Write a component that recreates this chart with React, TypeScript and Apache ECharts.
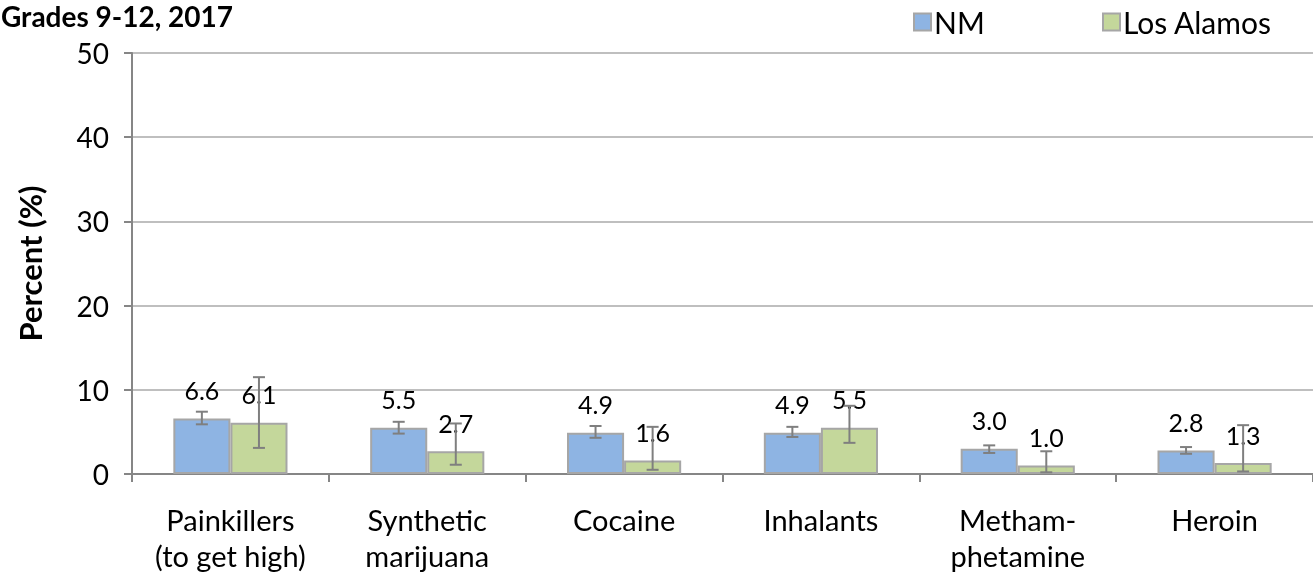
import React, { useEffect, useRef } from "react";
import * as echarts from "echarts";

const categories = [
  "Painkillers\n(to get high)",
  "Synthetic\nmarijuana",
  "Cocaine",
  "Inhalants",
  "Metham-\nphetamine",
  "Heroin",
];
const nmValues = [6.6, 5.5, 4.9, 4.9, 3.0, 2.8];
const laValues = [6.1, 2.7, 1.6, 5.5, 1.0, 1.3];
const nmLow = [5.9, 4.8, 4.3, 4.4, 2.5, 2.4];
const nmHigh = [7.4, 6.2, 5.7, 5.6, 3.4, 3.2];
const laLow = [3.1, 1.1, 0.5, 3.7, 0.2, 0.3];
const laHigh = [11.5, 6.0, 5.6, 8.1, 2.7, 5.8];
const yTicks = [0, 10, 20, 30, 40, 50];

const FONT = "Lato";
const NM_COLOR = "#8EB4E3";
const LA_COLOR = "#C4D79B";
const BORDER = "#A6A6A6";
const ERR = "#7F7F7F";
const CATEGORY_GAP = 0.42;

function errorSeries(name: string, lows: number[], highs: number[], side: number) {
  return {
    type: "custom",
    name: name + " error",
    z: 5,
    silent: true,
    data: lows.map((lo, i) => [i, lo, highs[i]]),
    encode: { x: 0, y: [1, 2] },
    renderItem: (params: any, api: any) => {
      const idx = api.value(0);
      const catW = api.size([1, 0])[0];
      const barW = (catW * (1 - CATEGORY_GAP)) / 2;
      const lowP = api.coord([idx, api.value(1)]);
      const highP = api.coord([idx, api.value(2)]);
      const x = lowP[0] + (side * barW) / 2;
      const cap = 6;
      const style = { stroke: ERR, lineWidth: 2 };
      return {
        type: "group",
        children: [
          { type: "line", shape: { x1: x, y1: lowP[1], x2: x, y2: highP[1] }, style },
          { type: "line", shape: { x1: x - cap, y1: lowP[1], x2: x + cap, y2: lowP[1] }, style },
          { type: "line", shape: { x1: x - cap, y1: highP[1], x2: x + cap, y2: highP[1] }, style },
        ],
      };
    },
  };
}

export default function App() {
  const ref = useRef<HTMLDivElement>(null);
  useEffect(() => {
    if (!ref.current) return;
    const chart = echarts.init(ref.current, undefined, { renderer: "svg" });
    chart.setOption({
      animation: false,
      textStyle: { fontFamily: FONT },
      graphic: [
        {
          type: "text",
          left: 1,
          top: 2,
          style: {
            text: "Grades 9-12, 2017",
            fontFamily: FONT,
            fontWeight: "bold",
            fontSize: 28,
            fill: "#000",
          },
        },
      ],
      legend: [
        {
          data: [{ name: "NM", itemStyle: { color: NM_COLOR, borderColor: BORDER, borderWidth: 2 } }],
          left: 908,
          top: 2,
          itemWidth: 17,
          itemHeight: 17,
          itemGap: 10,
          icon: "rect",
          textStyle: { fontFamily: FONT, fontSize: 30, color: "#000", padding: [0, 0, 0, -2] },
        },
        {
          data: [{ name: "Los Alamos", itemStyle: { color: LA_COLOR, borderColor: BORDER, borderWidth: 2 } }],
          left: 1097,
          top: 2,
          itemWidth: 17,
          itemHeight: 17,
          itemGap: 10,
          icon: "rect",
          textStyle: { fontFamily: FONT, fontSize: 30, color: "#000", padding: [0, 0, 0, -2] },
        },
      ],
      grid: { left: 132, top: 53, width: 1189, bottom: 103, containLabel: false },
      xAxis: {
        type: "category",
        data: categories,
        axisLine: { show: true, lineStyle: { color: "#868686", width: 2 } },
        axisTick: { show: true, length: 8, lineStyle: { color: "#868686", width: 2 } },
        axisLabel: {
          color: "#000",
          fontFamily: FONT,
          fontSize: 29,
          lineHeight: 36,
          margin: 27,
          interval: 0,
        },
      },
      yAxis: {
        type: "value",
        min: yTicks[0],
        max: yTicks[yTicks.length - 1],
        interval: 10,
        name: "Percent (%)",
        nameLocation: "middle",
        nameGap: 87,
        nameTextStyle: { fontFamily: FONT, fontWeight: "bold", fontSize: 31, color: "#000" },
        axisLine: { show: true, lineStyle: { color: "#868686", width: 2 } },
        axisTick: { show: true, length: 8, lineStyle: { color: "#868686", width: 2 } },
        axisLabel: { color: "#000", fontFamily: FONT, fontSize: 28, margin: 23 },
        splitLine: { lineStyle: { color: "#BFBFBF", width: 2 } },
      },
      series: [
        {
          name: "NM",
          type: "bar",
          data: nmValues,
          barGap: "0%",
          barCategoryGap: CATEGORY_GAP * 100 + "%",
          itemStyle: { color: NM_COLOR, borderColor: BORDER, borderWidth: 2 },
          label: {
            show: true,
            position: "top",
            distance: 16,
            formatter: (p: any) => p.value.toFixed(1),
            fontFamily: FONT,
            fontSize: 25,
            color: "#000",
          },
        },
        {
          name: "Los Alamos",
          type: "bar",
          data: laValues,
          barGap: "0%",
          barCategoryGap: CATEGORY_GAP * 100 + "%",
          itemStyle: { color: LA_COLOR, borderColor: BORDER, borderWidth: 2 },
          label: {
            show: true,
            position: "top",
            distance: 16,
            formatter: (p: any) => p.value.toFixed(1),
            fontFamily: FONT,
            fontSize: 25,
            color: "#000",
          },
        },
        errorSeries("NM", nmLow, nmHigh, -1),
        errorSeries("Los Alamos", laLow, laHigh, 1),
      ],
    });
    return () => chart.dispose();
  }, []);
  return (
    <div
      ref={ref}
      style={{ position: "fixed", left: 0, top: 0, width: 1313, height: 577 }}
    />
  );
}
